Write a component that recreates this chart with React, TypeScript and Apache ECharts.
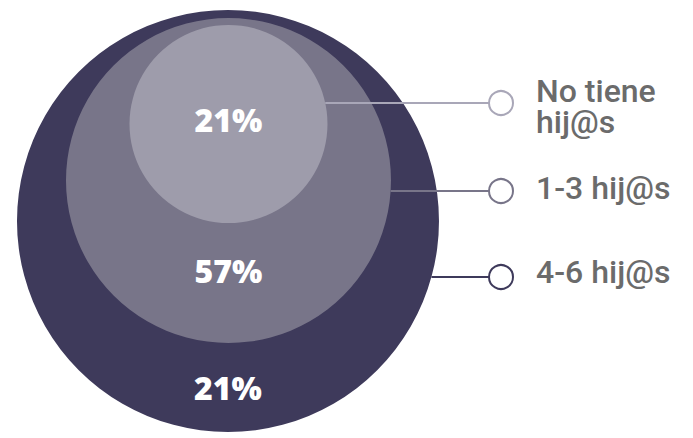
import React, { useEffect, useRef } from "react";
import * as echarts from "echarts";

// Data
const categories = ["No tiene\nhij@s", "1-3 hij@s", "4-6 hij@s"];
const shares = [21, 57, 21];

// Styles / layout (not data)
const circleColors = ["#9e9cab", "#787589", "#3e3a5b"];
const lineColors = ["#a9a7b8", "#787589", "#3e3a5b"];
// circle geometry per category: [cx, cy, r]
const circles: [number, number, number][] = [
  [228.5, 124, 99],
  [228.5, 180.5, 162.5],
  [228, 221, 211],
];
const labelDy = [-5, 90, 166.5];
const leaderY = [103, 191, 277];
// vertical centre of the first text line for each legend entry
const textY = [91, 187.5, 272];
const textLineGap = 31;
const markerX = 501;
const textX = 536;

export default function App() {
  const ref = useRef<HTMLDivElement>(null);
  useEffect(() => {
    document.body.style.margin = "0";
    if (!ref.current) return;
    const chart = echarts.init(ref.current, null, { renderer: "svg" });

    const order = [2, 1, 0];
    const series = order.map((i) => ({
      type: "pie",
      silent: true,
      z: 2 + (2 - i),
      center: [circles[i][0], circles[i][1]],
      radius: [0, circles[i][2]],
      startAngle: 90,
      itemStyle: { color: circleColors[i], borderWidth: 0 },
      emphasis: { disabled: true },
      label: {
        show: true,
        position: "center",
        formatter: "{c}%",
        color: "#ffffff",
        fontFamily: "Open Sans",
        fontWeight: 800,
        fontSize: 32,
      },
      labelLayout: { dy: labelDy[i] },
      labelLine: { show: false },
      data: [{ name: categories[i], value: shares[i] }],
    }));

    const graphics: any[] = [];
    categories.forEach((name, i) => {
      const [cx, cy, r] = circles[i];
      const y = leaderY[i];
      const dy = y - cy;
      const startX = cx + Math.sqrt(r * r - dy * dy);
      graphics.push({
        type: "line",
        z: 100,
        shape: { x1: startX, y1: y, x2: markerX - 12, y2: y },
        style: { stroke: lineColors[i], lineWidth: 2 },
      });
      graphics.push({
        type: "circle",
        z: 100,
        shape: { cx: markerX, cy: y, r: 12 },
        style: { fill: "#ffffff", stroke: lineColors[i], lineWidth: 2 },
      });
      name.split("\n").forEach((line, k) => {
        graphics.push({
          type: "text",
          z: 100,
          x: textX,
          y: textY[i] + k * textLineGap,
          style: {
            text: line,
            fill: "#6b6b6b",
            fontFamily: "Roboto",
            fontWeight: 500,
            fontSize: 32,
            align: "left",
            verticalAlign: "middle",
          },
        });
      });
    });

    chart.setOption({
      animation: false,
      backgroundColor: "#ffffff",
      series,
      graphic: graphics,
    });
    return () => chart.dispose();
  }, []);
  return <div ref={ref} style={{ width: 693, height: 438 }} />;
}
